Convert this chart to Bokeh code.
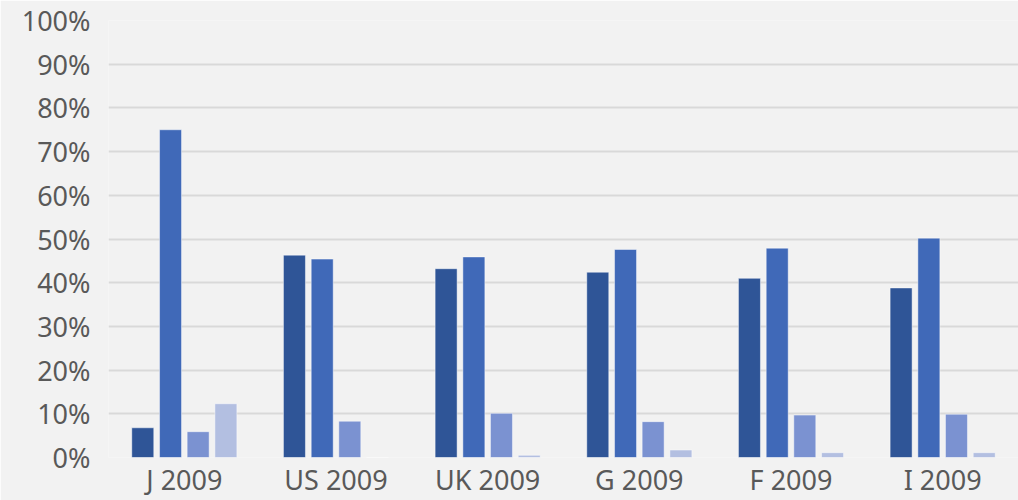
from bokeh.plotting import figure
from bokeh.models import FactorRange, Range1d, NumeralTickFormatter, FixedTicker, ColumnDataSource
from bokeh.transform import dodge
from bokeh.embed import file_html
from bokeh.resources import INLINE

# Share of each group per market, in percent
markets = ["J 2009", "US 2009", "UK 2009", "G 2009", "F 2009", "I 2009"]
series_1 = [6.8, 46.3, 43.2, 42.4, 41.0, 38.8]
series_2 = [75.0, 45.4, 45.9, 47.6, 47.9, 50.2]
series_3 = [5.9, 8.3, 10.1, 8.2, 9.7, 9.9]
series_4 = [12.3, 0.0, 0.5, 1.7, 1.1, 1.1]
y_ticks = [0, 10, 20, 30, 40, 50, 60, 70, 80, 90, 100]

colors = ["#2F5597", "#4069B8", "#7B92D1", "#B3BFE1"]
offsets = [-0.274, -0.091, 0.091, 0.274]
bar_width = 0.145
font = "Noto Sans"
text_color = "#595959"

source = ColumnDataSource(data=dict(
    market=markets,
    s1=[v / 100 for v in series_1],
    s2=[v / 100 for v in series_2],
    s3=[v / 100 for v in series_3],
    s4=[v / 100 for v in series_4],
))

p = figure(
    width=1018, height=500,
    x_range=FactorRange(*markets, range_padding=0),
    y_range=Range1d(0, 1),
    output_backend="svg", toolbar_location=None,
    background_fill_color="#F2F2F2", border_fill_color="#F2F2F2",
    min_border_left=108, min_border_right=0, min_border_top=20, min_border_bottom=42,
)
p.outline_line_color = None

for key, col, off in zip(["s1", "s2", "s3", "s4"], colors, offsets):
    p.vbar(x=dodge("market", off, range=p.x_range), top=key, bottom=0,
           width=bar_width, source=source, fill_color=col,
           line_color="white", line_alpha=0.45, line_width=1)

p.xgrid.grid_line_color = None
p.ygrid.grid_line_color = "#D9D9D9"
p.ygrid.grid_line_width = 2

p.yaxis.ticker = FixedTicker(ticks=[t / 100 for t in y_ticks])
p.yaxis.formatter = NumeralTickFormatter(format="0%")

for ax in (p.xaxis[0], p.yaxis[0]):
    ax.axis_line_color = None
    ax.major_tick_line_color = None
    ax.minor_tick_line_color = None
    ax.major_tick_out = 0
    ax.major_tick_in = 0
    ax.major_label_text_font = font
    ax.major_label_text_font_size = "27px"
    ax.major_label_text_color = text_color

p.yaxis.major_label_standoff = 18
p.xaxis.major_label_standoff = 3

open("out.html", "w").write(file_html(p, INLINE))
